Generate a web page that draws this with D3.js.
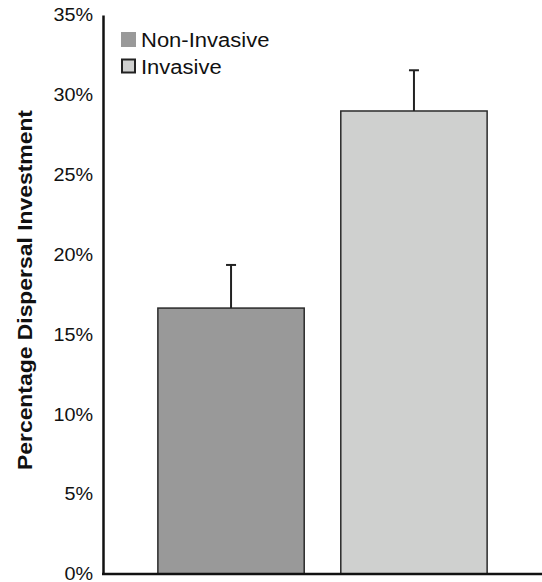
<!DOCTYPE html>
<html>
<head>
<meta charset="utf-8">
<script src="https://cdn.jsdelivr.net/npm/d3@7"></script>
<style>
  body { margin: 0; background: #fff; }
  svg { font-family: "Liberation Sans", Arial, sans-serif; }
</style>
</head>
<body>
<div id="chart"></div>
<script>
// chart data
const categories = ['Non-Invasive', 'Invasive'];
const values = [16.65, 28.99];
const errors = [2.7, 2.55];
const colors = ['#999999', '#cfd0cf'];
const yTicks = [0, 5, 10, 15, 20, 25, 30, 35];

const width = 542;
const height = 582;
const margin = { top: 15, right: 0, bottom: 8, left: 103 };

// stretch a text horizontally (reference glyphs are a bit wider than Arial)
function widen(sel, factor) {
    sel.each(function () {
        let w = this.getComputedTextLength();
        d3.select(this)
            .attr('textLength', w * factor)
            .attr('lengthAdjust', 'spacingAndGlyphs');
    });
}

let svg = d3.select('#chart')
    .append('svg')
    .attr('width', width)
    .attr('height', height);

let x = d3.scaleBand()
    .domain(categories)
    .range([margin.left, width - margin.right])
    .paddingInner(0.2)
    .paddingOuter(0.3);

let y = d3.scaleLinear()
    .domain([0, 35])
    .range([height - margin.bottom, margin.top]);

// bars
svg.selectAll('rect.bar')
    .data(categories)
    .enter()
    .append('rect')
    .attr('class', 'bar')
    .attr('x', d => x(d))
    .attr('width', x.bandwidth())
    .attr('y', (d, i) => y(values[i]))
    .attr('height', (d, i) => y(0) - y(values[i]))
    .attr('fill', (d, i) => colors[i])
    .attr('stroke', '#2a2a2a')
    .attr('stroke-width', 1.5);

// error bars (upper only)
let err = svg.selectAll('g.err')
    .data(categories)
    .enter()
    .append('g')
    .attr('class', 'err')
    .attr('stroke', '#222')
    .attr('stroke-width', 2);
err.append('line')
    .attr('x1', d => x(d) + x.bandwidth() / 2)
    .attr('x2', d => x(d) + x.bandwidth() / 2)
    .attr('y1', (d, i) => y(values[i]))
    .attr('y2', (d, i) => y(values[i] + errors[i]));
err.append('line')
    .attr('x1', d => x(d) + x.bandwidth() / 2 - 5)
    .attr('x2', d => x(d) + x.bandwidth() / 2 + 5)
    .attr('y1', (d, i) => y(values[i] + errors[i]))
    .attr('y2', (d, i) => y(values[i] + errors[i]));

// y axis
let yAxis = svg.append('g')
    .attr('transform', 'translate(' + margin.left + ',0)')
    .call(d3.axisLeft(y).tickValues(yTicks).tickSize(0).tickPadding(10).tickFormat(d => d + '%'));
yAxis.select('.domain').attr('stroke', '#111').attr('stroke-width', 2.5);
yAxis.selectAll('text')
    .attr('font-size', 18)
    .attr('fill', '#111')
    .attr('font-family', '"Liberation Sans", Arial, sans-serif')
    .call(widen, 1.1);

// x axis line
svg.append('line')
    .attr('x1', margin.left - 1)
    .attr('x2', width)
    .attr('y1', y(0))
    .attr('y2', y(0))
    .attr('stroke', '#111')
    .attr('stroke-width', 2.5);

// y title
svg.append('text')
    .attr('transform', 'translate(32,290) rotate(-90)')
    .attr('text-anchor', 'middle')
    .attr('font-size', 21)
    .attr('font-weight', 'bold')
    .attr('fill', '#111')
    .attr('textLength', 360)
    .attr('lengthAdjust', 'spacingAndGlyphs')
    .text('Percentage Dispersal Investment');

// legend
let legend = svg.selectAll('g.legend')
    .data(categories)
    .enter()
    .append('g')
    .attr('class', 'legend')
    .attr('transform', (d, i) => 'translate(121,' + (47 + i * 26.5) + ')');
legend.append('rect')
    .attr('x', (d, i) => i === 0 ? 0 : 1)
    .attr('y', (d, i) => i === 0 ? -15 : -14)
    .attr('width', (d, i) => i === 0 ? 15 : 13)
    .attr('height', (d, i) => i === 0 ? 15 : 13)
    .attr('fill', (d, i) => colors[i])
    .attr('stroke', (d, i) => i === 0 ? 'none' : '#222')
    .attr('stroke-width', 2);
legend.append('text')
    .attr('x', 20)
    .attr('y', 0)
    .attr('font-size', 20)
    .attr('fill', '#111')
    .text(d => d)
    .call(widen, 1.1);
</script>
</body>
</html>
